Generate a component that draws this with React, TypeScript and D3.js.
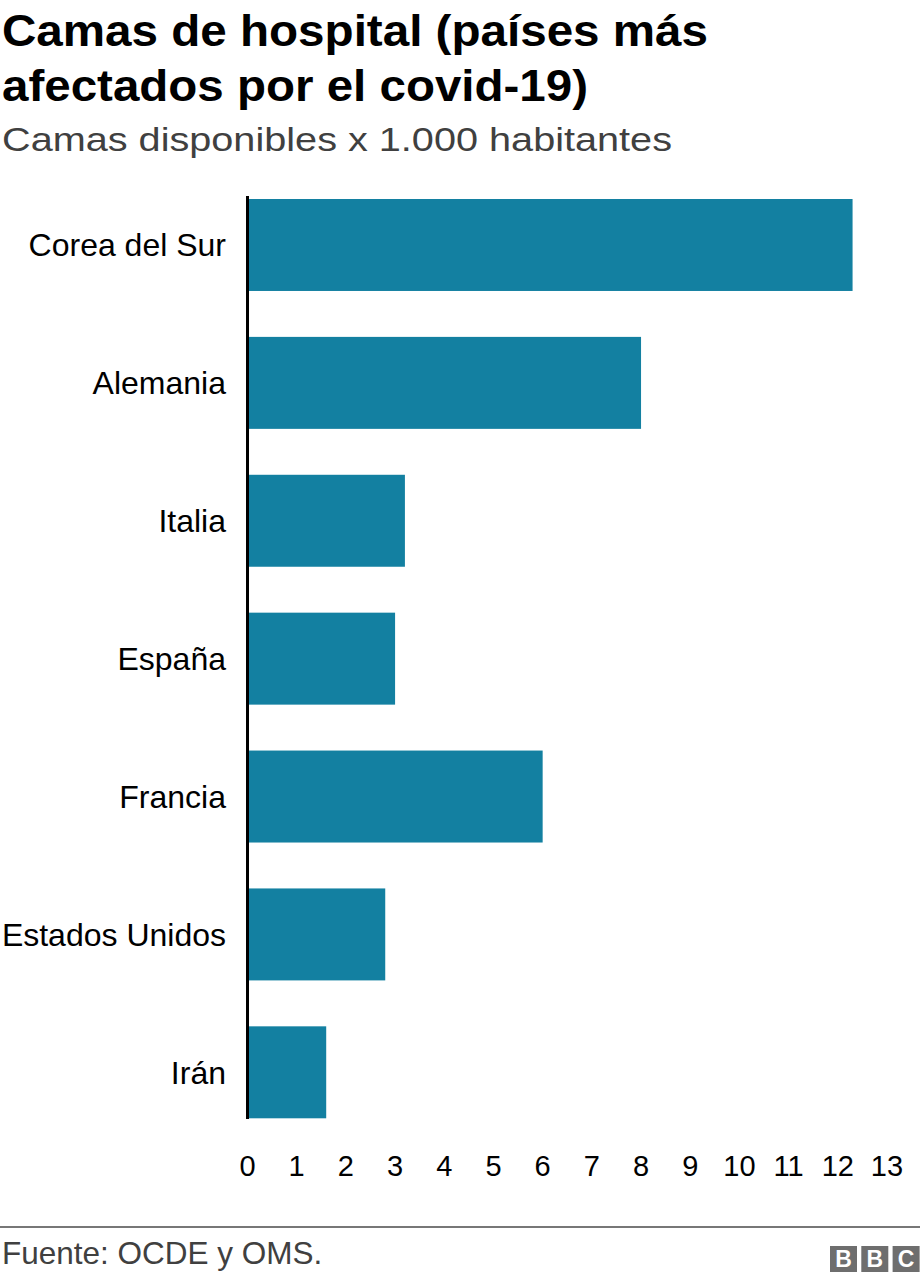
import React from "react";
import * as d3 from "d3";

const categories: string[] = ["Corea del Sur", "Alemania", "Italia", "España", "Francia", "Estados Unidos", "Irán"];
const values: number[] = [12.3, 8.0, 3.2, 3.0, 6.0, 2.8, 1.6];
const tickValues: number[] = [0, 1, 2, 3, 4, 5, 6, 7, 8, 9, 10, 11, 12, 13];

const title1 = "Camas de hospital (países más";
const title2 = "afectados por el covid-19)";
const subtitle = "Camas disponibles x 1.000 habitantes";
const source = "Fuente: OCDE y OMS.";

const W = 920;
const H = 1282;
const FONT = "'Liberation Sans', Arial, Helvetica, sans-serif";

export default function App() {
  const x = d3.scaleLinear().domain([0, 13]).range([247.5, 887]);
  const y = d3
    .scaleBand<string>()
    .domain(categories)
    .range([199, 1118.3])
    .paddingInner(0.333)
    .paddingOuter(0);

  const logo = ["B", "B", "C"];

  return (
    <svg
      width={W}
      height={H}
      style={{ position: "absolute", left: 0, top: 0, background: "#fff" }}
      fontFamily={FONT}
    >
      <text x={2} y={46} fontSize={45} fontWeight="bold" fill="#000" textLength={706} lengthAdjust="spacingAndGlyphs">{title1}</text>
      <text x={2} y={101} fontSize={45} fontWeight="bold" fill="#000" textLength={586} lengthAdjust="spacingAndGlyphs">{title2}</text>
      <text x={2} y={151} fontSize={33} fill="#404040" textLength={670} lengthAdjust="spacingAndGlyphs">{subtitle}</text>

      {categories.map((c, i) => (
        <g key={c}>
          <rect
            x={x(0)}
            y={y(c)!}
            width={x(values[i]) - x(0)}
            height={y.bandwidth()}
            fill="#1380A1"
          />
          <text
            x={226}
            y={y(c)! + y.bandwidth() / 2}
            dy="0.35em"
            textAnchor="end"
            fontSize={32}
            fill="#000"
          >
            {c}
          </text>
        </g>
      ))}

      <line x1={x(0)} x2={x(0)} y1={196} y2={1119} stroke="#000" strokeWidth={3} />

      {tickValues.map((t) => (
        <text key={t} x={x(t)} y={1176} textAnchor="middle" fontSize={29} fill="#000">
          {t}
        </text>
      ))}

      <line x1={0} x2={W} y1={1227} y2={1227} stroke="#777" strokeWidth={2} />
      <text x={2} y={1264} fontSize={31.5} fill="#404040">{source}</text>

      {logo.map((l, i) => (
        <g key={i}>
          <rect x={830 + i * 31.3} y={1246} width={27} height={26} fill="#6e6e6e" />
          <text
            x={830 + i * 31.3 + 13.5}
            y={1267}
            textAnchor="middle"
            fontSize={23}
            fontWeight="bold"
            fill="#fff"
          >
            {l}
          </text>
        </g>
      ))}
    </svg>
  );
}
